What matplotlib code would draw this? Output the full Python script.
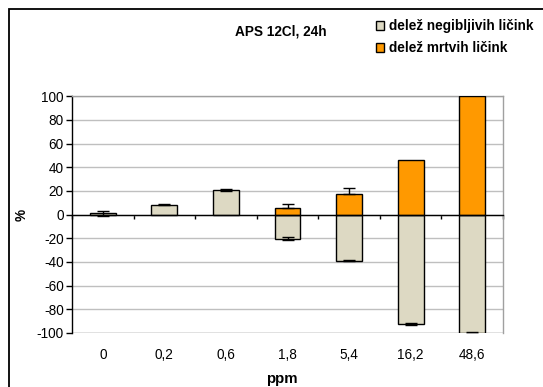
import matplotlib
matplotlib.use("Agg")
import matplotlib.pyplot as plt
import numpy as np
from matplotlib.patches import Rectangle, Patch

plt.rcParams['font.family'] = ['Liberation Sans', 'DejaVu Sans']

categories = ['0', '0,2', '0,6', '1,8', '5,4', '16,2', '48,6']
negibljivih = [1, 8.4, 20.8, -20.3, -38.9, -92.3, -100]
negibljivih_err = [2, 0.6, 0.6, 1.0, 0.6, 0.8, 0.6]
mrtvih = [0, 0, 0, 5.9, 17.7, 46.2, 100]
mrtvih_err = [0, 0, 0, 3.0, 4.5, 0, 0]
yticks = list(range(-100, 101, 20))

W, H = 543, 387
fig = plt.figure(figsize=(W / 100, H / 100), dpi=100)
fig.patch.set_facecolor('white')

# figure frame (left and top visible)
fig.patches.append(Rectangle((8.5 / W, -0.1), 1.2, (H - 8.5) / H + 0.1, transform=fig.transFigure,
                             fill=False, edgecolor='black', linewidth=1.3))

ax = fig.add_axes([72 / W, (H - 333) / H, (503 - 72) / W, (333 - 96.3) / H])
x = np.arange(len(categories))
bw = 0.42
beige = '#DDD9C3'
orange = '#FF9900'
fs = 9.8

ax.bar(x, negibljivih, bw, color=beige, edgecolor='black', linewidth=1.0, zorder=3,
       yerr=negibljivih_err, error_kw=dict(ecolor='black', elinewidth=1, capsize=4, capthick=1, zorder=4))
mx = [i for i in range(len(mrtvih)) if mrtvih[i] > 0]
ax.bar(x[mx], [mrtvih[i] for i in mx], bw, color=orange, edgecolor='black', linewidth=1.0, zorder=3)
ex = [i for i in range(len(mrtvih_err)) if mrtvih_err[i] > 0]
ax.errorbar(x[ex], [mrtvih[i] for i in ex], yerr=[[0] * len(ex), [mrtvih_err[i] for i in ex]],
            fmt='none', ecolor='black', elinewidth=1, capsize=4, capthick=1, zorder=4)

ax.set_xlim(-0.5, len(categories) - 0.5)
ax.set_ylim(-100, 100)
ax.set_yticks(yticks)
ax.set_yticklabels([str(v) for v in yticks], fontsize=fs)
ax.yaxis.grid(True, color='#BFBFBF', linewidth=1.0, zorder=0)
ax.set_axisbelow(True)

for s in ['top', 'right']:
    ax.spines[s].set_color('#A0A0A0')
    ax.spines[s].set_linewidth(1.0)
ax.spines['left'].set_color('black')
ax.spines['left'].set_linewidth(1.0)
ax.spines['bottom'].set_position(('data', 0))
ax.spines['bottom'].set_color('black')
ax.spines['bottom'].set_linewidth(1.0)
ax.spines['bottom'].set_zorder(5)
ax.tick_params(axis='y', direction='out', length=4, width=1, pad=2, colors='black')

# category boundary ticks on zero line
ax.set_xticks(np.arange(len(categories) + 1) - 0.5)
ax.set_xticklabels([])
ax.tick_params(axis='x', direction='out', length=3, width=1)

# bottom frame line at -100 and category labels
ax.axhline(-100, color='#A0A0A0', linewidth=1.0, zorder=1)
sec = ax.secondary_xaxis(0.0)
sec.set_xticks(x)
sec.set_xticklabels(categories, fontsize=fs)
sec.tick_params(length=0, pad=11)
sec.spines['bottom'].set_visible(False)

fig.text(22 / W, 1 - 215 / H, '%', rotation=90, ha='center', va='center', fontsize=fs, fontweight='bold')
fig.text(282 / W, 1 - 379 / H, 'ppm', ha='center', va='center', fontsize=10.8, fontweight='bold')
fig.text(281 / W, 1 - 31 / H, 'APS 12Cl, 24h', ha='center', va='center', fontsize=fs, fontweight='bold')

handles = [Patch(facecolor=beige, edgecolor='black', linewidth=1.0),
           Patch(facecolor=orange, edgecolor='black', linewidth=1.0)]
fig.legend(handles, ['delež negibljivih ličink', 'delež mrtvih ličink'], loc='upper left',
           bbox_to_anchor=(376 / W, 1 - 19 / H), frameon=False,
           prop=dict(size=fs, weight='bold'), handlelength=0.6, handleheight=0.6,
           handletextpad=0.35, labelspacing=0.6, borderpad=0, borderaxespad=0)

fig.savefig('out.png', dpi=100)
